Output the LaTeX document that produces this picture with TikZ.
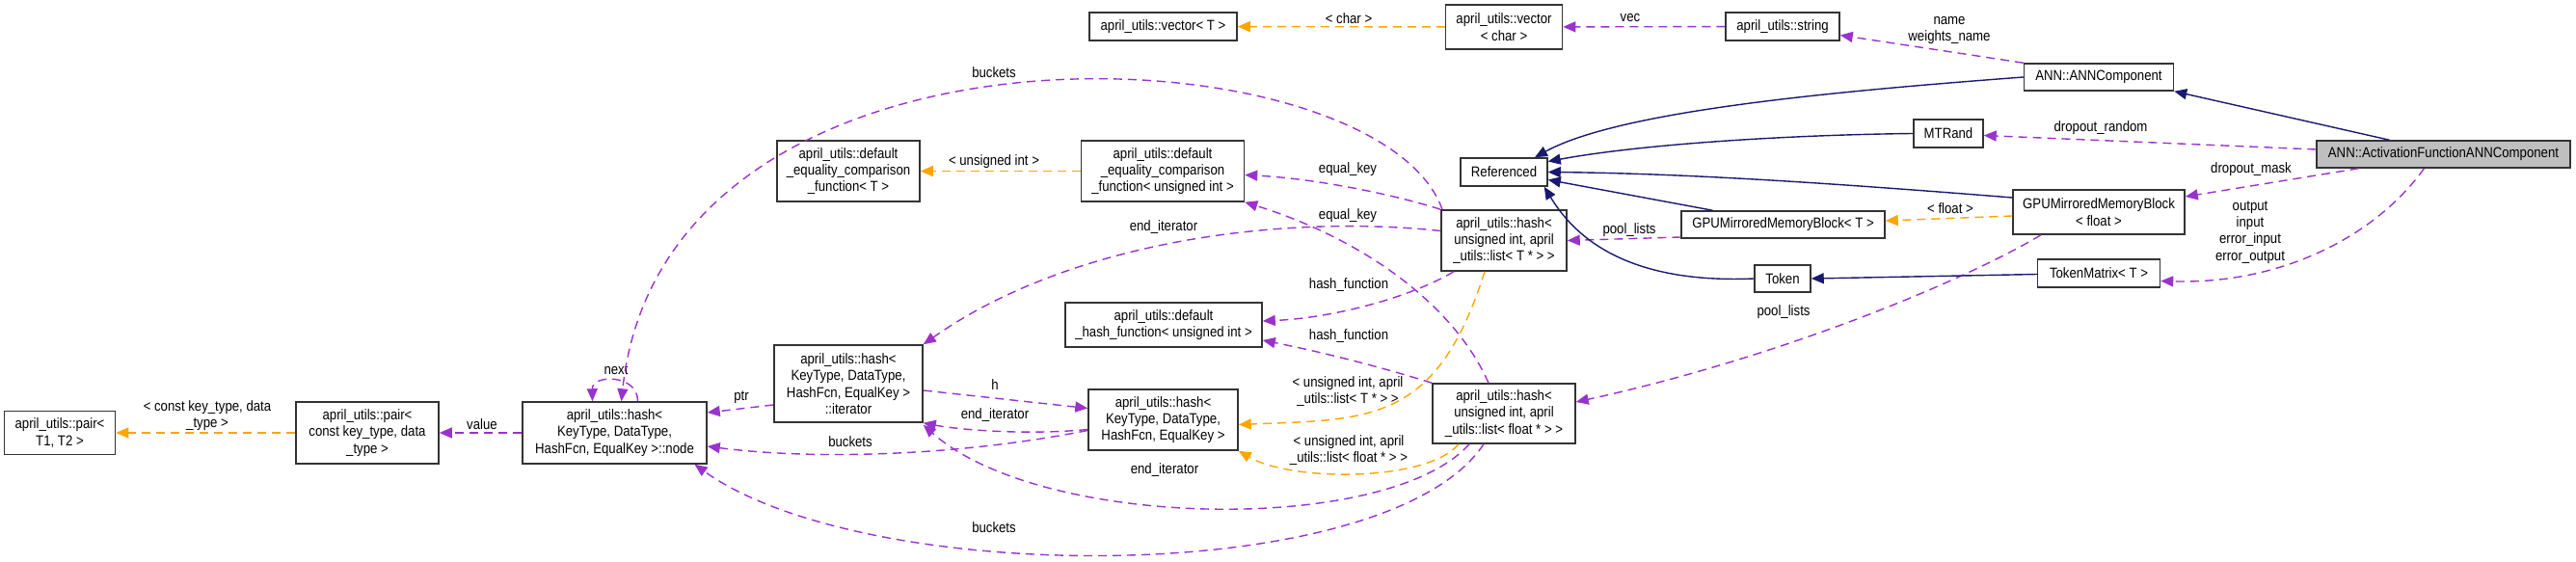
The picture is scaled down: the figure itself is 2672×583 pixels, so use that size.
\documentclass[tikz,border=0pt]{standalone}
\usepackage{fontspec}
\setmainfont{Liberation Sans}[FakeStretch=0.88]
\usetikzlibrary{arrows.meta}
\definecolor{inhblue}{HTML}{191970}
\definecolor{usepurple}{HTML}{9A32CD}
\definecolor{tplorange}{HTML}{FFA500}
\definecolor{boxgray}{HTML}{BFBFBF}

\begin{document}
\begin{tikzpicture}[x=1pt, y=-1pt, font=\fontsize{15}{17.3}\selectfont,
    cls/.style = {draw=black!80, line width=1.5pt, align=center, inner sep=0pt},
    lbl/.style = {align=center, inner sep=0pt},
    inh/.style = {draw=inhblue, line width=1.4pt, -{Triangle[length=13pt,width=11pt]}},
    use/.style = {draw=usepurple, line width=1.4pt, dash pattern=on 9pt off 6pt, -{Triangle[length=13pt,width=11pt]}},
    tpl/.style = {draw=tplorange, line width=1.4pt, dash pattern=on 9pt off 6pt, -{Triangle[length=13pt,width=11pt]}}]
        \useasboundingbox (0,0) rectangle (2672,583);

        \node[cls, minimum width=115, minimum height=45] (pairT) at (62,449) {april\_utils::pair<\\T1, T2 >};
        \node[cls, minimum width=148, minimum height=64] (pairK) at (381,449) {april\_utils::pair<\\const key\_type, data\\\_type >};
        \node[cls, minimum width=191, minimum height=64] (node) at (637.5,449) {april\_utils::hash<\\KeyType, DataType,\\HashFcn, EqualKey >::node};
        \node[cls, minimum width=154, minimum height=80] (iter) at (880,398) {april\_utils::hash<\\KeyType, DataType,\\HashFcn, EqualKey >\\::iterator};
        \node[cls, minimum width=148, minimum height=63] (eqT) at (880,177.5) {april\_utils::default\\\_equality\_comparison\\\_function< T >};
        \node[cls, minimum width=169, minimum height=63] (equi) at (1206,177.5) {april\_utils::default\\\_equality\_comparison\\\_function< unsigned int >};
        \node[cls, minimum width=204, minimum height=46] (hashfn) at (1207,337) {april\_utils::default\\\_hash\_function< unsigned int >};
        \node[cls, minimum width=155, minimum height=63] (hashKey) at (1206.5,435.5) {april\_utils::hash<\\KeyType, DataType,\\HashFcn, EqualKey >};
        \node[cls, minimum width=130, minimum height=63] (hashT) at (1560,249.5) {april\_utils::hash<\\unsigned int, april\\\_utils::list< T * > >};
        \node[cls, minimum width=148, minimum height=62] (hashF) at (1560,429) {april\_utils::hash<\\unsigned int, april\\\_utils::list< float * > >};
        \node[cls, minimum width=153, minimum height=29] (vecT) at (1206.5,27.5) {april\_utils::vector< T >};
        \node[cls, minimum width=121, minimum height=46] (vecC) at (1560,28) {april\_utils::vector\\< char >};
        \node[cls, minimum width=118, minimum height=29] (string) at (1849,27.5) {april\_utils::string};
        \node[cls, minimum width=90, minimum height=29] (Referenced) at (1560,178.5) {Referenced};
        \node[cls, minimum width=155, minimum height=28] (ANNComp) at (2177,80) {ANN::ANNComponent};
        \node[cls, minimum width=72, minimum height=29] (MTRand) at (2021,138.5) {MTRand};
        \node[cls, fill=boxgray, minimum width=263, minimum height=28] (AFANN) at (2534.5,160) {ANN::ActivationFunctionANNComponent};
        \node[cls, minimum width=211, minimum height=28] (GPUT) at (1849.5,233) {GPUMirroredMemoryBlock< T >};
        \node[cls, minimum width=178, minimum height=46] (GPUfloat) at (2177,220) {GPUMirroredMemoryBlock\\< float >};
        \node[cls, minimum width=58, minimum height=28] (Token) at (1849,289) {Token};
        \node[cls, minimum width=127, minimum height=29] (TokenMatrix) at (2177,283.5) {TokenMatrix< T >};

        \node[lbl] (l-ctype) at (215,431) {< const key\_type, data\\\_type >};
        \node[lbl] (l-value) at (500,440) {value};
        \node[lbl] (l-next) at (639,384) {next};
        \node[lbl] (l-ptr) at (769,412) {ptr};
        \node[lbl] (l-bktop) at (1031,75) {buckets};
        \node[lbl] (l-uint) at (1031,168) {< unsigned int >};
        \node[lbl] (l-eqkey1) at (1398,176) {equal\_key};
        \node[lbl] (l-eqkey2) at (1398,224) {equal\_key};
        \node[lbl] (l-endit1) at (1207,236) {end\_iterator};
        \node[lbl] (l-hfn1) at (1399,296) {hash\_function};
        \node[lbl] (l-hfn2) at (1399,349) {hash\_function};
        \node[lbl] (l-h) at (1032,399) {h};
        \node[lbl] (l-endit2) at (1032,431) {end\_iterator};
        \node[lbl] (l-bkmid) at (882,458) {buckets};
        \node[lbl] (l-listT) at (1398,406) {< unsigned int, april\\\_utils::list< T * > >};
        \node[lbl] (l-listF) at (1399,467) {< unsigned int, april\\\_utils::list< float * > >};
        \node[lbl] (l-endit3) at (1208,488) {end\_iterator};
        \node[lbl] (l-bkbot) at (1031,547) {buckets};
        \node[lbl] (l-char) at (1399,19) {< char >};
        \node[lbl] (l-vec) at (1691,19) {vec};
        \node[lbl] (l-name) at (2022,31.5) {name\\weights\_name};
        \node[lbl] (l-random) at (2179,133) {dropout\_random};
        \node[lbl] (l-mask) at (2335,176) {dropout\_mask};
        \node[lbl] (l-float) at (2023,216) {< float >};
        \node[lbl] (l-pool1) at (1690,239) {pool\_lists};
        \node[lbl] (l-pool2) at (1850,324) {pool\_lists};
        \node[lbl] (l-io) at (2334,241) {output\\input\\error\_input\\error\_output};

        % templates
        \draw[tpl] (pairK) -- (pairT);
        \draw[tpl] (equi) -- (eqT);
        \draw[tpl] (vecC) -- (vecT);
        \draw[tpl] ([yshift=-4pt]GPUfloat.west) -- ([yshift=4pt]GPUT.east);
        \draw[tpl] ([xshift=-20pt]hashT.south) .. controls (1490,440) and (1420,435) .. ([yshift=-5pt]hashKey.east);
        \draw[tpl] ([xshift=-47pt]hashF.south) .. controls (1480,500) and (1340,500) .. (hashKey.south east);

        % members
        \draw[use] (node) -- (pairK);
        \draw[use] ([xshift=24pt]node.north) .. controls (662,388) and (614,388) .. ([xshift=-23pt]node.north);
        \draw[use] ([yshift=-22pt]iter.west) -- ([yshift=21pt]node.east);
        \draw[use] ([yshift=-11pt]hashKey.west) .. controls (1000,472) and (850,478) .. ([yshift=-14pt]node.east);
        \draw[use] ([xshift=-64pt]hashT.north) .. controls (1430,30) and (690,-10) .. ([xshift=7pt]node.north);
        \draw[use] ([xshift=-21pt]hashF.south) .. controls (1440,610) and (900,610) .. ([xshift=83pt]node.south);
        \draw[use] ([yshift=-10pt]hashKey.west) .. controls (1060,452) and (990,445) .. (iter.south east);
        \draw[use] ([xshift=-36pt]hashF.south) .. controls (1440,555) and (1080,550) .. ([yshift=-2pt]iter.south east);
        \draw[use] ([yshift=10pt]hashT.west) .. controls (1330,222) and (1110,250) .. (iter.north east);
        \draw[use] ([yshift=-7pt]iter.east) -- ([yshift=12pt]hashKey.west);
        \draw[use] (hashT.north west) .. controls (1440,200) and (1360,185) .. ([yshift=-4pt]equi.east);
        \draw[use] ([xshift=-16pt]hashF.north) .. controls (1510,320) and (1420,250) .. (equi.south east);
        \draw[use] ([xshift=-52pt]hashT.south) .. controls (1460,310) and (1380,330) .. ([yshift=4pt]hashfn.east);
        \draw[use] (hashF.north west) .. controls (1430,380) and (1370,365) .. ([yshift=-16pt]hashfn.east);
        \draw[use] (string) -- (vecC);
        \draw[use] (ANNComp.north west) -- ([yshift=-9pt]string.east);
        \draw[use] ([yshift=5pt]AFANN.west) -- ([yshift=-2pt]MTRand.east);
        \draw[use] ([xshift=-88pt]AFANN.south) -- ([yshift=16pt]GPUfloat.east);
        \draw[use] ([xshift=-20pt]AFANN.south) .. controls (2460,250) and (2360,295) .. ([yshift=-8pt]TokenMatrix.east);
        \draw[use] ([yshift=-13pt]GPUT.west) -- (hashT.east);
        \draw[use] ([xshift=-60pt]GPUfloat.south) .. controls (2040,290) and (1850,370) .. ([yshift=12pt]hashF.east);

        % inheritance
        \draw[inh] (ANNComp.west) .. controls (1900,95) and (1680,115) .. ([xshift=32pt]Referenced.north);
        \draw[inh] (MTRand.west) .. controls (1850,140) and (1700,150) .. ([yshift=11pt]Referenced.east);
        \draw[inh] ([yshift=15pt]GPUfloat.west) .. controls (1900,190) and (1750,180) .. (Referenced.east);
        \draw[inh] ([xshift=-73pt]GPUT.north) -- ([yshift=-8pt]Referenced.east);
        \draw[inh] (Token.west) .. controls (1680,295) and (1630,240) .. ([xshift=-4pt]Referenced.south east);
        \draw[inh] ([yshift=-1pt]TokenMatrix.west) -- (Token.east);
        \draw[inh] ([xshift=-56pt]AFANN.north) -- (ANNComp.south east);
    \end{tikzpicture}
\end{document}
